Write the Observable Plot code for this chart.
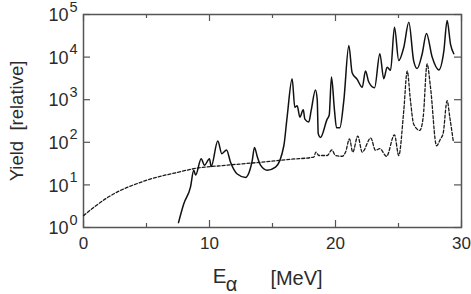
<!DOCTYPE html>
<html>
<head>
<meta charset="utf-8">
<script src="https://cdn.jsdelivr.net/npm/d3@7"></script>
<script src="https://cdn.jsdelivr.net/npm/@observablehq/plot@0.6"></script>
<style>
  html, body { margin: 0; padding: 0; background: #fff; }
  #chart { width: 471px; height: 294px; }
</style>
</head>
<body>
<div id="chart"></div>
<script>
// Solid curve: energy (MeV) and relative yield
const solidE = [7.54, 7.96, 8.49, 8.75, 8.9, 9.34, 9.6, 10.0, 10.13, 10.66, 10.98, 11.35, 11.67, 12.2, 12.86, 13.2, 13.39, 13.57, 13.8, 14.05, 14.58, 15.24, 15.9, 16.16, 16.56, 16.77, 16.96, 17.17, 17.44, 17.57, 17.88, 18.07, 18.41, 18.55, 18.63, 18.81, 19.34, 19.5, 19.68, 19.92, 20.08, 20.34, 20.66, 21.06, 21.32, 21.72, 22.12, 22.38, 22.64, 23.1, 23.52, 23.83, 24.1, 24.37, 24.68, 25.02, 25.42, 25.82, 26.2, 26.48, 26.88, 27.22, 27.67, 28.2, 28.6, 28.86, 29.13, 29.39];
const solidY = [1.3, 3.6, 8.9, 22, 17, 41, 29, 41, 27, 107, 54, 66, 34, 18, 15, 22, 37, 76, 45, 29, 22, 26, 83, 390, 3100, 660, 720, 390, 580, 350, 300, 560, 1700, 1000, 160, 130, 350, 430, 3400, 560, 220, 220, 950, 18600, 4300, 3000, 1950, 4700, 2600, 1900, 12000, 3100, 5800, 4900, 50000, 8300, 17000, 66000, 8300, 5400, 12000, 36000, 10000, 5000, 14000, 72000, 20000, 12000];

// Dashed curve
const dashE = [0.0, 1.88, 4.92, 7.56, 8.76, 11.4, 14.05, 16.5, 18.28, 18.44, 18.68, 19.34, 19.71, 20.0, 20.53, 20.8, 21.11, 21.37, 21.77, 22.12, 22.8, 23.17, 23.52, 24.05, 24.68, 25.02, 25.42, 25.69, 25.95, 26.2, 26.69, 26.96, 27.27, 27.54, 28.02, 28.33, 28.54, 28.86, 29.07, 29.34];
const dashY = [1.9, 5.0, 12.6, 20, 24, 29, 34, 40, 45, 59, 49, 49, 66, 49, 47, 59, 120, 59, 140, 59, 126, 65, 71, 47, 150, 49, 560, 4700, 950, 270, 190, 390, 6900, 1950, 83, 120, 160, 950, 390, 110];

// Ticks
const xMajor = [0, 10, 20, 30];
const xMinor = [5, 15, 25];
const yDecades = [1, 10, 100, 1000, 10000, 100000];
const yExponents = ["0", "1", "2", "3", "4", "5"];

const solid = solidE.map((e, i) => ({E: e, Y: solidY[i]}));
const dashed = dashE.map((e, i) => ({E: e, Y: dashY[i]}));

const W = 471, H = 294;
const mL = 83, mR = 10, mT = 14, mB = 67;
const innerW = W - mL - mR, innerH = H - mT - mB;
const font = "'Liberation Sans', Arial, sans-serif";
const txt = "#2b2b2b";
const frameC = "#555";

const chart = Plot.plot({
  width: W,
  height: H,
  marginLeft: mL,
  marginRight: mR,
  marginTop: mT,
  marginBottom: mB,
  style: {fontFamily: font, background: "#fff", color: txt, overflow: "visible"},
  x: {domain: [0, 30], axis: null},
  y: {type: "log", domain: [1, 100000], axis: null},
  marks: [
    // inward ticks: bottom & top
    Plot.tickX(xMajor, {x: d => d, insetTop: innerH - 7, stroke: frameC, strokeWidth: 1.2}),
    Plot.tickX(xMinor, {x: d => d, insetTop: innerH - 4, stroke: frameC, strokeWidth: 1.2}),
    Plot.tickX(xMajor, {x: d => d, insetBottom: innerH - 7, stroke: frameC, strokeWidth: 1.2}),
    Plot.tickX(xMinor, {x: d => d, insetBottom: innerH - 4, stroke: frameC, strokeWidth: 1.2}),
    // inward ticks: left & right
    Plot.tickY(yDecades, {y: d => d, insetRight: innerW - 7, stroke: frameC, strokeWidth: 1.2}),
    Plot.tickY(yDecades, {y: d => d, insetLeft: innerW - 7, stroke: frameC, strokeWidth: 1.2}),
    Plot.frame({stroke: frameC, strokeWidth: 1.5}),
    // curves
    Plot.line(dashed, {x: "E", y: "Y", curve: "monotone-x", stroke: "#1a1a1a", strokeWidth: 1.3, strokeDasharray: "3,2"}),
    Plot.line(solid, {x: "E", y: "Y", curve: "monotone-x", stroke: "#111", strokeWidth: 1.5}),
    // y tick labels 10^n
    Plot.text(yDecades, {y: d => d, frameAnchor: "left", text: () => "10", dx: -15, dy: 1, textAnchor: "end", lineAnchor: "middle", fontSize: 18, fill: txt}),
    Plot.text(yDecades, {y: d => d, frameAnchor: "left", text: (d, i) => yExponents[i], dx: -14, dy: -7.5, textAnchor: "start", lineAnchor: "middle", fontSize: 14.5, fill: txt}),
    // x tick labels
    Plot.text(xMajor, {x: d => d, frameAnchor: "bottom", text: d => String(d), dy: 16, lineAnchor: "middle", fontSize: 17, fill: txt}),
    // axis titles
    Plot.text(["Yield\u00a0\u00a0[relative]"], {frameAnchor: "left", text: d => d, dx: -66, rotate: -90, textAnchor: "middle", lineAnchor: "middle", fontSize: 18.5, fill: txt}),
    Plot.text(["E"], {frameAnchor: "bottom", text: d => d, dx: -53, dy: 49, textAnchor: "middle", lineAnchor: "middle", fontSize: 20.5, fill: txt}),
    Plot.text(["α"], {frameAnchor: "bottom", text: d => d, dx: -41, dy: 57, textAnchor: "middle", lineAnchor: "middle", fontSize: 20, fill: txt}),
    Plot.text(["[MeV]"], {frameAnchor: "bottom", text: d => d, dx: 24, dy: 51, textAnchor: "middle", lineAnchor: "middle", fontSize: 20, fill: txt})
  ]
});

document.getElementById("chart").appendChild(chart);
</script>
</body>
</html>
